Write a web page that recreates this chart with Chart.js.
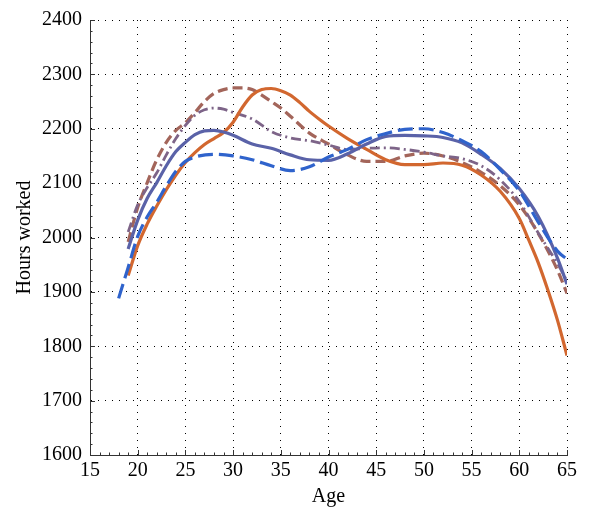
<!DOCTYPE html>
<html>
<head>
<meta charset="utf-8">
<script src="https://cdn.jsdelivr.net/npm/chart.js@4/dist/chart.umd.min.js"></script>
<style>
  html, body { margin: 0; padding: 0; background: #fff; }
  #wrap { width: 589px; height: 513px; }
</style>
</head>
<body>
<div id="wrap"><canvas id="chart"></canvas></div>
<script>
// series data
const orangeAges = [19,20,21,22,23,24,25,26,27,28,29,30,31,32,33,34,35,36,37,38,39,40,42,44,46,48,50,52,54,56,58,60,61,62,63,64,65];
const orangeHours = [1930,1985,2025,2058,2088,2115,2138,2156,2171,2182,2193,2212,2240,2262,2272,2274,2270,2262,2248,2232,2218,2205,2182,2162,2143,2134,2134,2137,2133,2115,2085,2035,1995,1953,1903,1848,1783];

const blueAges = [19,20,21,22,23,24,25,26,27,28,29,30,32,34,36,38,40,42,44,46,48,50,52,54,56,58,60,62,64,65];
const blueHours = [1979,2032,2072,2101,2132,2158,2175,2189,2196,2197,2194,2188,2172,2164,2152,2143,2142,2154,2172,2186,2188,2187,2184,2174,2153,2127,2090,2038,1962,1914];

const blueDashAges = [18,19,20,21,22,23,24,25,26,28,30,32,34,36,38,40,42,44,46,48,50,52,54,56,58,60,62,64,65];
const blueDashHours = [1888,1945,2002,2038,2065,2095,2122,2140,2148,2153,2150,2143,2132,2123,2130,2148,2162,2180,2191,2199,2200,2193,2178,2158,2125,2086,2028,1975,1960];

const mauveAges = [19,20,21,22,23,24,25,26,27,28,29,30,31,32,33,34,35,36,38,40,42,44,46,48,50,52,54,56,58,60,62,64,65];
const mauveHours = [1992,2055,2101,2143,2175,2197,2211,2230,2250,2265,2272,2275,2275,2272,2262,2250,2238,2223,2192,2172,2152,2140,2140,2150,2155,2150,2138,2120,2095,2060,2007,1940,1897];

const dotAges = [19,20,21,22,23,24,25,26,27,28,29,30,32,34,36,38,40,42,44,46,48,50,52,54,56,58,60,62,64,65];
const dotHours = [2010,2060,2092,2119,2152,2182,2206,2225,2235,2238,2236,2230,2218,2195,2183,2178,2170,2162,2164,2165,2162,2157,2150,2145,2132,2106,2066,2008,1952,1920];

const xTicks = [15,20,25,30,35,40,45,50,55,60,65];
const yTicks = [1600,1700,1800,1900,2000,2100,2200,2300,2400];

const pts = (xs, ys) => xs.map((x, i) => ({ x: x, y: ys[i] }));

function series(label, xs, ys, color, dash, width, order) {
    return {
        label: label,
        data: pts(xs, ys),
        borderColor: color,
        borderWidth: width,
        borderDash: dash,
        pointRadius: 0,
        fill: false,
        cubicInterpolationMode: 'monotone',
        order: order
    };
}

// small inward tick marks on the left and bottom axes
const innerTicks = {
    id: 'innerTicks',
    afterDraw(chart) {
        const { ctx, chartArea, scales } = chart;
        ctx.save();
        ctx.strokeStyle = '#333';
        ctx.lineWidth = 1;
        ctx.beginPath();
        for (let v = 15; v <= 65; v += 1) {
            const px = Math.round(scales.x.getPixelForValue(v)) + 0.5;
            const len = v % 5 === 0 ? 5 : 2.5;
            ctx.moveTo(px, chartArea.bottom);
            ctx.lineTo(px, chartArea.bottom - len);
        }
        for (let v = 1600; v <= 2400; v += 20) {
            const py = Math.round(scales.y.getPixelForValue(v)) + 0.5;
            const len = v % 100 === 0 ? 5 : 2.5;
            ctx.moveTo(chartArea.left, py);
            ctx.lineTo(chartArea.left + len, py);
        }
        ctx.stroke();
        ctx.restore();
    }
};

const serif = 'Liberation Serif, Times New Roman, serif';

new Chart(document.getElementById('chart'), {
    type: 'line',
    data: {
        datasets: [
            series('A', blueDashAges, blueDashHours, '#2f63cc', [15, 6], 3.2, 1),
            series('B', blueAges, blueHours, '#5a62a8', [], 3.2, 2),
            series('C', orangeAges, orangeHours, '#d2672f', [], 3.2, 3),
            series('D', dotAges, dotHours, '#7d6488', [10, 4, 2, 4], 2.8, 4),
            series('E', mauveAges, mauveHours, '#a3655a', [10, 5], 3.2, 5)
        ]
    },
    options: {
        responsive: true,
        maintainAspectRatio: false,
        animation: false,
        layout: { padding: { top: 16, right: 22, left: 0, bottom: 0 } },
        plugins: {
            legend: { display: false },
            tooltip: { enabled: false }
        },
        scales: {
            x: {
                type: 'linear',
                min: 15,
                max: 65,
                afterBuildTicks: (s) => { s.ticks = xTicks.map(v => ({ value: v })); },
                afterFit: (s) => { s.height = 58; },
                ticks: {
                    color: '#000',
                    padding: 4,
                    maxRotation: 0,
                    callback: (v) => String(v),
                    font: { family: serif, size: 20 }
                },
                grid: { color: '#000', lineWidth: 1, drawTicks: false },
                border: { display: true, color: '#333', width: 1, dash: [1, 6] },
                title: {
                    display: true,
                    text: 'Age',
                    color: '#000',
                    font: { family: serif, size: 20 },
                    padding: { top: 0, bottom: 4 }
                }
            },
            y: {
                min: 1600,
                max: 2400,
                afterBuildTicks: (s) => { s.ticks = yTicks.map(v => ({ value: v })); },
                afterFit: (s) => { s.width = 90; },
                ticks: {
                    color: '#000',
                    padding: 8,
                    callback: (v) => String(v),
                    font: { family: serif, size: 20 }
                },
                grid: { color: '#000', lineWidth: 1, drawTicks: false },
                border: { display: true, color: '#333', width: 1, dash: [1, 6] },
                title: {
                    display: true,
                    text: 'Hours worked',
                    color: '#000',
                    font: { family: serif, size: 20 },
                    padding: { top: 13, bottom: 0 }
                }
            }
        }
    },
    plugins: [innerTicks]
});
</script>
</body>
</html>
